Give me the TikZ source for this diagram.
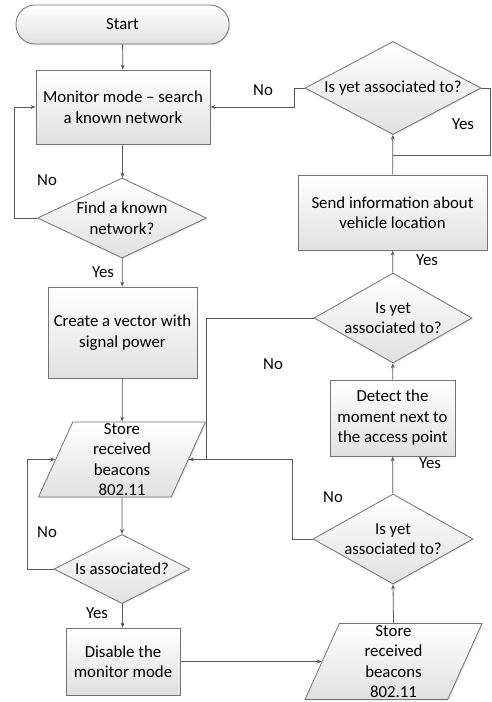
\documentclass[tikz,border=0pt]{standalone}
\usepackage{fontspec}
\setmainfont{Carlito}
\usetikzlibrary{shapes.geometric,arrows.meta,shadows}

\begin{document}
\begin{tikzpicture}[x=1pt, y=-1pt,
    every node/.style={font=\fontsize{16.8}{20.5}\selectfont, align=center, inner sep=0pt},
    fc/.style={draw=black!55, line width=0.8pt, top color=white, bottom color=black!12,
        drop shadow={shadow xshift=1.2pt, shadow yshift=-1.2pt, opacity=0.2}},
    box/.style={fc, rectangle},
    term/.style={fc, rectangle, rounded corners=19pt},
    dec/.style={fc, diamond, aspect=1.8, inner sep=-6pt},
    io/.style={fc, trapezium, trapezium left angle=62, trapezium right angle=118,
        trapezium stretches body, inner ysep=-4pt},
    ln/.style={draw=black!65, line width=0.8pt},
    arr/.style={ln, -{Stealth[length=5pt, width=4pt]}}]
    \useasboundingbox (0,0) rectangle (491,702);
    % left column
    \node[term, minimum width=213, minimum height=39] (st) at (122.5,24.5) {Start};
    \node[box, minimum width=174, minimum height=74] (mon) at (123,107) {Monitor mode -- search\\a known network};
    \node[dec, minimum width=169, minimum height=80] (fnd) at (122,218) {Find a known\\network?};
    \node[box, minimum width=149, minimum height=91] (vec) at (122.5,332.5) {Create a vector with\\signal power};
    \node[io, minimum width=167, minimum height=75] (sto1) at (122,459.5) {Store\\received\\beacons\\802.11};
    \node[dec, minimum width=136, minimum height=69] (asc) at (122,569) {Is associated?};
    \node[box, minimum width=114, minimum height=67] (dis) at (123,661.5) {Disable the\\monitor mode};
    % right column
    \node[io, minimum width=177, minimum height=76] (sto2) at (393.5,661.5) {Store\\received\\beacons\\802.11};
    \node[dec, minimum width=160, minimum height=90] (yet3) at (393,539) {Is yet\\associated to?};
    \node[box, minimum width=125, minimum height=76] (det) at (392.5,418) {Detect the\\moment next to\\the access point};
    \node[dec, minimum width=158, minimum height=90] (yet2) at (393,318) {Is yet\\associated to?};
    \node[box, minimum width=189, minimum height=75] (snd) at (392.5,212.5) {Send information about\\vehicle location};
    \node[dec, minimum width=176, minimum height=93] (yet1) at (393,88) {Is yet associated to?};
    \coordinate (j) at (206,459.5);
    \coordinate (k) at (393,155);
    % labels
    \node (no1) at (47,180) {No};
    \node (ye1) at (103,272) {Yes};
    \node (no2) at (47,532) {No};
    \node (ye2) at (97,613) {Yes};
    \node (no3) at (263,90) {No};
    \node (ye3) at (463,124) {Yes};
    \node (ye4) at (427,260) {Yes};
    \node (no4) at (273,364) {No};
    \node (ye5) at (430,463) {Yes};
    \node (no5) at (333,497) {No};
    % connectors
    \draw[arr] (st) -- (mon);
    \draw[arr] (mon) -- (fnd);
    \draw[arr] (fnd.west) -- ++(-23,0) |- (mon.west);
    \draw[arr] (fnd) -- (vec);
    \draw[arr] (vec) -- (sto1);
    \draw[arr] (sto1) -- (asc);
    \draw[arr] (asc.west) -- ++(-26,0) |- (sto1.west);
    \draw[arr] (asc) -- (dis);
    \draw[arr] (dis.east) -- (sto2.west);
    \draw[arr] (sto2.north) -- (yet3.south);
    \draw[arr] (yet3.west) -- ++(-20,0) |- (sto1.east);
    \draw[ln] (yet2.west) -| (j);
    \draw[arr] (yet3) -- (det);
    \draw[arr] (det) -- (yet2);
    \draw[arr] (yet2) -- (snd);
    \draw[arr] (snd) -- (yet1);
    \draw[arr] (yet1.west) -- ++(-10,0) |- (mon.east);
    \draw[ln] (yet1.east) -- ++(9,0) |- (k);
\end{tikzpicture}
\end{document}
